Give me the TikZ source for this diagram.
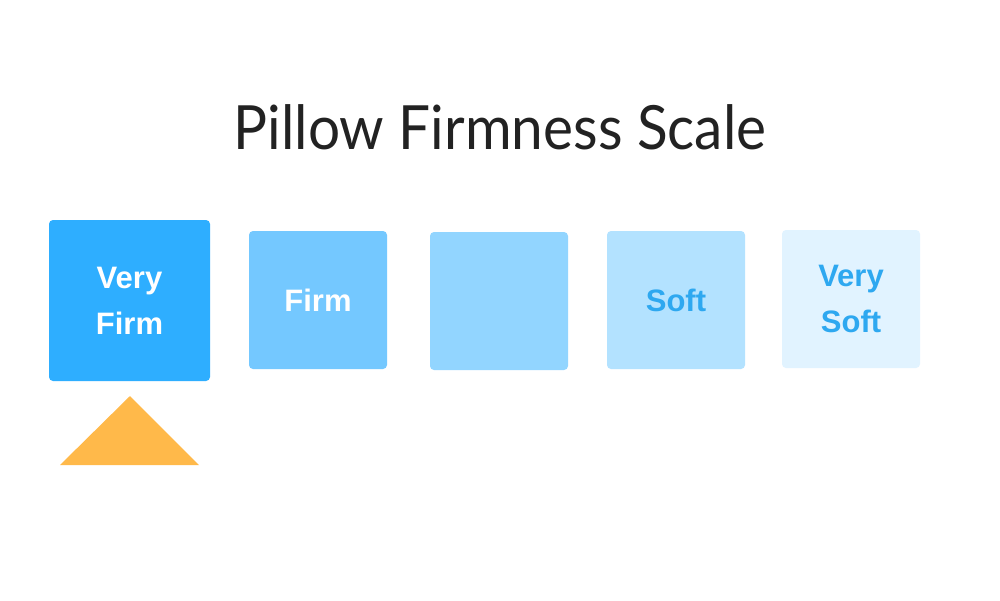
\documentclass[tikz,border=0pt]{standalone}
\usepackage{fontspec}
\setsansfont{Liberation Sans}
\newfontfamily\titlefont[FakeStretch=0.93]{Lato}
\definecolor{vfirm}{HTML}{2EAEFF}
\definecolor{firm}{HTML}{74C8FF}
\definecolor{medium}{HTML}{92D5FF}
\definecolor{soft}{HTML}{B3E2FF}
\definecolor{vsoft}{HTML}{E1F3FF}
\definecolor{softtext}{HTML}{2EA8F0}
\definecolor{marker}{HTML}{FFB94A}
\definecolor{ink}{HTML}{222222}

\begin{document}
\begin{tikzpicture}[x=1pt,y=-1pt,
        box/.style={rounded corners=4pt,minimum size=138pt,inner sep=0pt,align=center,
                    font=\sffamily\bfseries\fontsize{31}{46}\selectfont}]
        \useasboundingbox[fill=white] (0,0) rectangle (1000,600);
        \node[text=ink,font=\titlefont\fontsize{61}{70}\selectfont] (title) at (500,127) {Pillow Firmness Scale};
        \draw (129.5,300.5) node[box,fill=vfirm,text=white,minimum size=161pt] (vf) {Very\\Firm};
        \draw (318,300)     node[box,fill=firm,text=white] (f) {Firm};
        \draw (499,301)     node[box,fill=medium] (m) {};
        \draw (676,300)     node[box,fill=soft,text=softtext] (s) {Soft};
        \draw (851,299)     node[box,fill=vsoft,text=softtext] (vs) {Very\\Soft};
        \fill[marker] (60,465) -- (130,396) -- (199,465) -- cycle;
    \end{tikzpicture}
\end{document}
